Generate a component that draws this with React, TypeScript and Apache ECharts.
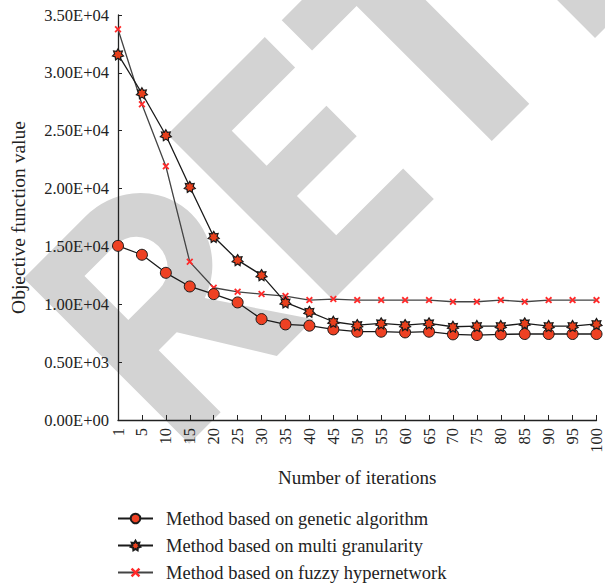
import React, { useEffect, useRef } from "react";
import * as echarts from "echarts";

const iterations = ["1","5","10","15","20","25","30","35","40","45","50","55","60","65","70","75","80","85","90","95","100"];
const geneticValues = [15050,14280,12720,11540,10880,10160,8720,8260,8150,7830,7630,7630,7570,7630,7400,7340,7400,7430,7430,7430,7430];
const multiValues = [31600,28240,24610,20150,15830,13820,12520,10160,9350,8490,8200,8350,8200,8350,8060,8120,8120,8350,8120,8120,8300];
const fuzzyValues = [33770,27290,21930,13670,11430,11080,10880,10710,10360,10450,10360,10360,10360,10360,10220,10220,10360,10220,10360,10360,10360];
const yTickLabels: Record<number, string> = {
  0: "0.00E+00", 5000: "0.50E+03", 10000: "1.00E+04", 15000: "1.50E+04",
  20000: "2.00E+04", 25000: "2.50E+04", 30000: "3.00E+04", 35000: "3.50E+04",
};
const seriesNames = [
  "Method based on genetic algorithm",
  "Method based on multi granularity",
  "Method based on fuzzy hypernetwork",
];

function starPath(n: number, inner: number): string {
  const pts: string[] = [];
  for (let i = 0; i < n * 2; i++) {
    const r = i % 2 === 0 ? 1 : inner;
    const a = (Math.PI * i) / n - Math.PI / 2;
    pts.push(`${(r * Math.cos(a)).toFixed(3)},${(r * Math.sin(a)).toFixed(3)}`);
  }
  return "path://M" + pts.join(" L") + " Z";
}
const STAR = starPath(7, 0.62);
const CROSS = "path://M0,0.18 L0.18,0 L0.5,0.32 L0.82,0 L1,0.18 L0.68,0.5 L1,0.82 L0.82,1 L0.5,0.68 L0.18,1 L0,0.82 L0.32,0.5 Z";

// "RETRACTED" watermark glyph outlines (letter coordinates, rotated 45deg at render)
function rGlyph(o: number): string {
  return (
    `M${o - 180} 213.5 L${o - 92} 213.5 A76 73.25 0 0 1 ${o - 66} 355.6 ` +
    `L${o - 4} 447.6 L${o - 56} 447.6 L${o - 110} 360 L${o - 135.5} 360 ` +
    `L${o - 135.5} 447.6 L${o - 180} 447.6 Z ` +
    `M${o - 135.5} 255 L${o - 135.5} 317 L${o - 92} 317 A30 31 0 0 0 ${o - 92} 255 Z `
  );
}
const E_GLYPH =
  "M23.4 213.5 L161 213.5 L161 256.4 L71.4 256.4 L71.4 305.7 L156 305.7 L156 348.6 L71.4 348.6 " +
  "L71.4 404.2 L166 404.2 L166 447.6 L23.4 447.6 Z ";
const T_GLYPH =
  "M185 213.5 L364 213.5 L364 256.4 L301 256.4 L301 447.6 L248 447.6 L248 256.4 L185 256.4 Z ";
const WATERMARK_D = rGlyph(0) + E_GLYPH + T_GLYPH + rGlyph(574);

let registered = false;
function ensureShape() {
  if (registered) return;
  echarts.graphic.registerShape("retractedMark", echarts.graphic.extendPath(WATERMARK_D, {}));
  registered = true;
}

const SERIF = '"Liberation Serif", "Times New Roman", serif';

export default function App() {
  const ref = useRef<HTMLDivElement>(null);
  useEffect(() => {
    if (!ref.current) return;
    ensureShape();
    const chart = echarts.init(ref.current, null, { renderer: "svg" });
    chart.setOption({
      animation: false,
      backgroundColor: "#ffffff",
      textStyle: { fontFamily: SERIF },
      graphic: [
        {
          type: "retractedMark",
          x: 0,
          y: 0,
          rotation: Math.PI / 4,
          z: -100,
          silent: true,
          style: { fill: "#d3d3d3", stroke: "none" },
        },
      ],
      grid: { left: 116, right: 7, top: 15, bottom: 164, containLabel: false },
      legend: {
        orient: "vertical",
        left: 117,
        top: 509,
        padding: 0,
        itemWidth: 35,
        itemHeight: 12,
        itemGap: 8,
        data: seriesNames,
        textStyle: { fontFamily: SERIF, fontSize: 18.5, color: "#222", padding: [0, 0, 0, 8] },
      },
      xAxis: {
        type: "category",
        data: iterations,
        boundaryGap: false,
        name: "Number of iterations",
        nameLocation: "middle",
        nameGap: 48,
        nameTextStyle: { fontFamily: SERIF, fontSize: 19, color: "#222" },
        axisLine: { lineStyle: { color: "#222", width: 1.3 } },
        axisTick: { inside: true, length: 5, lineStyle: { color: "#222" }, alignWithLabel: true },
        axisLabel: { rotate: 90, fontFamily: SERIF, fontSize: 16.5, color: "#222", margin: 8, interval: 0 },
        splitLine: { show: false },
      },
      yAxis: {
        type: "value",
        min: 0,
        max: 35000,
        interval: 5000,
        name: "Objective function value",
        nameLocation: "middle",
        nameGap: 90,
        nameTextStyle: { fontFamily: SERIF, fontSize: 19.5, color: "#222" },
        axisLine: { show: true, lineStyle: { color: "#222", width: 1.3 } },
        axisTick: { show: true, inside: true, length: 4, lineStyle: { color: "#222" } },
        axisLabel: {
          fontFamily: SERIF,
          fontSize: 16.5,
          color: "#222",
          margin: 9,
          formatter: (v: number) => yTickLabels[v] ?? "",
        },
        splitLine: { show: false },
      },
      series: [
        {
          name: seriesNames[0],
          type: "line",
          data: geneticValues,
          symbol: "circle",
          symbolSize: 11,
          lineStyle: { color: "#1a1a1a", width: 1.3 },
          itemStyle: { color: "#ee4123", borderColor: "#1a1a1a", borderWidth: 1 },
          z: 3,
        },
        {
          name: seriesNames[1],
          type: "line",
          data: multiValues,
          symbol: STAR,
          symbolSize: 11,
          lineStyle: { color: "#1a1a1a", width: 1.3 },
          itemStyle: { color: "#e8401c", borderColor: "#1a1a1a", borderWidth: 1.2 },
          z: 4,
        },
        {
          name: seriesNames[2],
          type: "line",
          data: fuzzyValues,
          symbol: CROSS,
          symbolSize: 7,
          lineStyle: { color: "#444", width: 1.3 },
          itemStyle: { color: "#ff2a2a", borderWidth: 0 },
          z: 2,
        },
      ],
    });
    return () => chart.dispose();
  }, []);
  return <div ref={ref} style={{ width: 605, height: 584, position: "absolute", left: 0, top: 0 }} />;
}
